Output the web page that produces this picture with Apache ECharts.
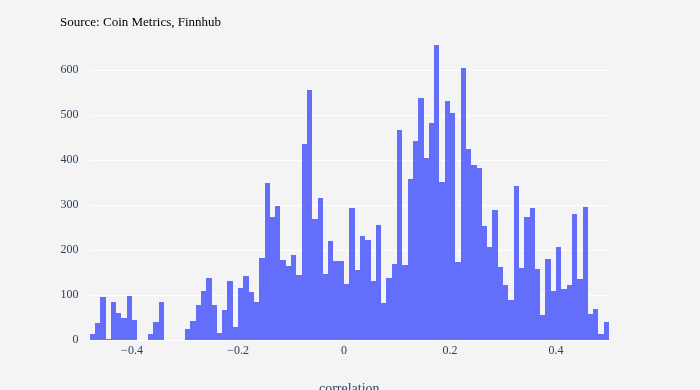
<!DOCTYPE html>
<html>
<head>
<meta charset="utf-8">
<script src="https://cdn.jsdelivr.net/npm/echarts@6/dist/echarts.min.js"></script>
<style>
  html, body { margin: 0; padding: 0; background: #f4f4f4; }
  #chart { width: 700px; height: 390px; }
</style>
</head>
<body>
<div id="chart"></div>
<script>
// histogram bins: left edge of first bin and bin width
var binStart = -0.48;
var binWidth = 0.01;

// counts per bin, left to right
var counts = [
  13, 37, 95, 2, 84, 59, 50, 98, 44, 0,
  0, 13, 40, 84, 0, 0, 0, 0, 24, 42,
  78, 109, 138, 78, 16, 67, 131, 30, 116, 142,
  107, 84, 182, 349, 273, 298, 178, 164, 189, 144,
  436, 556, 269, 316, 147, 220, 176, 176, 124, 293,
  156, 231, 222, 131, 256, 82, 138, 169, 467, 167,
  358, 442, 538, 404, 482, 656, 351, 531, 504, 173,
  604, 425, 389, 382, 253, 207, 289, 162, 122, 89,
  342, 160, 273, 293, 158, 56, 180, 109, 207, 113,
  122, 280, 136, 296, 58, 69, 13, 40
];

var yTicks = [0, 100, 200, 300, 400, 500, 600];

var barColor = '#636efa';
var labelColor = '#2a3f5f';
var font = '"Liberation Serif", "DejaVu Serif", serif';

var bars = counts.map(function (c, i) {
  var x0 = +(binStart + i * binWidth).toFixed(4);
  return [x0, +(x0 + binWidth).toFixed(4), c];
});

var myChart = echarts.init(document.getElementById('chart'));

myChart.setOption({
  backgroundColor: '#f4f4f4',
  animation: false,
  graphic: [{
    type: 'text',
    left: 60,
    top: 16,
    style: {
      text: 'Source: Coin Metrics, Finnhub',
      fill: '#000',
      font: '13px ' + font
    }
  }],
  grid: {
    left: 89.6,
    right: 91,
    top: 29.5,
    bottom: 50,
    outerBoundsMode: 'none',
    containLabel: false
  },
  xAxis: {
    type: 'value',
    min: binStart,
    max: 0.5,
    splitNumber: 5,
    name: 'correlation',
    nameLocation: 'middle',
    nameGap: 42,
    nameTextStyle: { color: labelColor, fontFamily: font, fontSize: 14 },
    axisLine: { show: false },
    axisTick: { show: false },
    splitLine: { show: false },
    axisLabel: {
      color: labelColor,
      fontFamily: font,
      fontSize: 12,
      margin: 5,
      showMinLabel: false,
      showMaxLabel: false,
      formatter: function (v) {
        var s = String(+v.toFixed(2));
        return s.replace('-', '\u2212');
      }
    }
  },
  yAxis: {
    type: 'value',
    min: yTicks[0],
    max: 690,
    interval: 100,
    axisLine: { show: false },
    axisTick: { show: false },
    splitLine: {
      showMaxLine: false,
      lineStyle: { color: '#ffffff', width: 1 }
    },
    axisLabel: {
      color: labelColor,
      fontFamily: font,
      fontSize: 12,
      margin: 11,
      showMaxLabel: false,
      formatter: function (v) {
        return yTicks.indexOf(v) >= 0 ? String(v) : '';
      }
    }
  },
  series: [{
    type: 'custom',
    data: bars,
    encode: { x: [0, 1], y: 2 },
    renderItem: function (params, api) {
      if (!api.value(2)) return null;
      var p0 = api.coord([api.value(0), api.value(2)]);
      var p1 = api.coord([api.value(1), 0]);
      var x0 = Math.round(p0[0]), x1 = Math.round(p1[0]);
      var y0 = Math.round(p0[1]), y1 = Math.round(p1[1]);
      return {
        type: 'rect',
        shape: { x: x0, y: y0, width: x1 - x0, height: Math.max(1, y1 - y0) },
        style: { fill: barColor }
      };
    }
  }]
});
</script>
</body>
</html>
